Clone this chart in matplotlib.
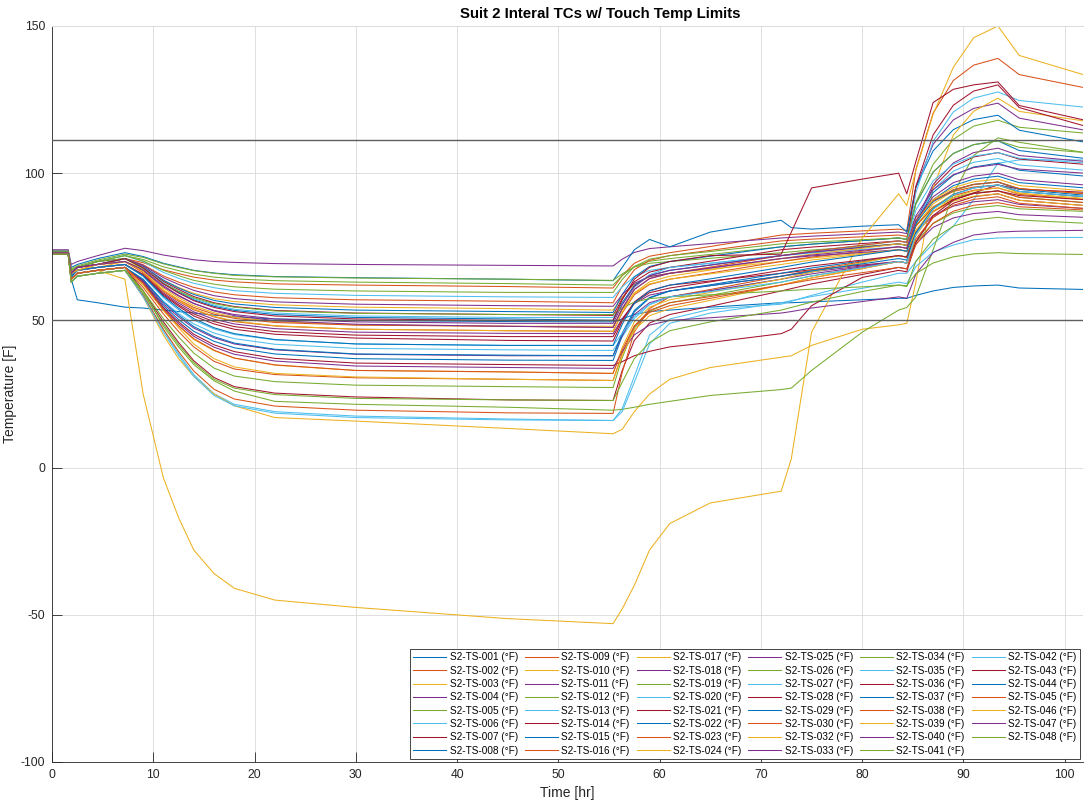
"""Suit 2 internal thermocouples plotted against the touch temperature limits."""

import matplotlib

matplotlib.use("Agg")
import matplotlib.pyplot as plt

# Sample times [hr], shared by every sensor trace.
hours = [0, 1.6, 1.9, 2.5, 4.5, 7.2, 9, 11, 12.5, 14, 16, 18, 22, 30, 45, 55.4, 56.3, 57.5, 59, 61,
         65, 72, 73, 75, 80, 83.6, 84.4, 85.3, 87, 89, 91, 93.4, 95.5, 102]

# Temperatures [F] per sensor, one value per entry of `hours`.
s2_ts_001 = [73.5, 73.5, 64, 57, 56, 54.5, 54.2, 53.5, 53, 52.5, 51.8, 51.2, 50.5, 50, 49.6, 49.5, 50.5, 52, 53, 53.5, 54.5, 56, 56, 56.3, 57, 57.5, 57.5, 58.5, 60, 61.2, 61.7, 62, 61, 60.5]
s2_ts_002 = [73.5, 73.5, 67, 68, 69, 71, 69.6, 67.2, 65.9, 64.7, 63.7, 63.1, 62.4, 62, 61.5, 61, 65.2, 69.4, 71.8, 73, 75.1, 79, 79.2, 79.6, 80.4, 81, 80.5, 101.3, 120.4, 131.5, 136.7, 139, 133.5, 129]
s2_ts_003 = [72.5, 72.5, 66, 67, 68, 70, 67.7, 63.5, 61.2, 59.2, 57.4, 56.4, 55.3, 54.5, 54, 53.5, 57.9, 62.3, 64.8, 66, 67.4, 70, 70.4, 71.2, 72.8, 74, 73.5, 82, 89.6, 94, 96.1, 97, 94.8, 93]
s2_ts_004 = [74, 74, 69, 70, 72, 74.5, 73.7, 72.2, 71.4, 70.6, 70, 69.7, 69.3, 69, 68.7, 68.5, 70.8, 73.1, 74.4, 75, 76.1, 78, 78.2, 78.6, 79.4, 80, 79.5, 95.3, 109.8, 118.1, 122, 123.8, 118.7, 114.6]
s2_ts_005 = [73, 73, 67, 68, 70, 72, 70.7, 68.2, 66.9, 65.7, 64.7, 64.1, 63.5, 63, 62.5, 62, 65.2, 68.3, 70.1, 71, 72.4, 75, 75.3, 75.9, 77.1, 78, 77.5, 90, 103, 111.5, 116, 118, 115.6, 113.6]
s2_ts_006 = [72.5, 72.5, 64, 66, 67, 68, 58.9, 46.8, 38.7, 31.6, 25.1, 21.5, 19, 17.5, 16.5, 16, 20, 31, 45, 50.5, 53.8, 55.5, 56.5, 58.5, 63, 66, 66, 70, 76, 82, 91, 103.4, 104.5, 104.5]
s2_ts_007 = [73, 73, 66, 67, 68, 69, 65.3, 58.5, 54.8, 51.5, 48.8, 47, 45.3, 44, 43.2, 43, 49.7, 56.3, 60.1, 62, 63.4, 66, 66.4, 67.2, 68.8, 70, 69.5, 83, 95.2, 102.2, 105.5, 107, 104.8, 103]
s2_ts_008 = [73.5, 73.5, 68, 69, 71, 73, 71.7, 69.4, 68.2, 67, 66.1, 65.5, 64.9, 64.5, 64, 63.5, 68, 74, 77.5, 75, 80, 84, 81.5, 81, 82, 82.5, 80, 95.2, 107.6, 114.8, 118.2, 119.7, 114.6, 110.5]
s2_ts_009 = [73, 73, 66, 68, 69, 71, 68.9, 65.1, 63, 61.2, 59.7, 58.7, 57.7, 57, 56.5, 56, 61.6, 67.2, 70.4, 72, 73.8, 77, 77.2, 77.6, 78.4, 79, 78.5, 85, 90.6, 93.8, 95.3, 96, 93.8, 92]
s2_ts_010 = [72.5, 72.5, 63, 65, 66, 67, 58, 45, 37, 31, 25, 21, 17, 15.8, 13.3, 11.5, 13, 19, 25, 30, 34, 37.5, 38, 41.5, 47, 48.5, 49, 63, 95, 113, 121, 125.5, 121, 117.7]
s2_ts_011 = [72.5, 72.5, 65, 67, 68, 69, 65.6, 59.3, 55.9, 52.9, 50.4, 48.8, 47.2, 46, 45.6, 45.5, 50.6, 55.7, 58.6, 60, 61.8, 65, 65.5, 66.5, 68.5, 70, 69.5, 83.5, 96.2, 103.5, 107, 108.5, 106, 104]
s2_ts_012 = [73.5, 73.5, 67.5, 68.5, 70.5, 72.5, 71.4, 69.2, 68, 66.9, 66, 65.3, 64.8, 64.4, 64, 63.6, 65.8, 68.1, 69.4, 70, 71.1, 73, 73.3, 73.9, 75.1, 76, 75.5, 82.3, 88.2, 91.7, 93.3, 94, 91.8, 90]
s2_ts_013 = [73, 73, 67, 68, 70, 72, 70, 66.3, 64.3, 62.6, 61.1, 60.1, 59.2, 58.5, 58, 57.8, 61.4, 64.9, 67, 68, 69.4, 72, 72.3, 72.9, 74.1, 75, 74.5, 93.4, 110.8, 120.8, 125.5, 127.6, 124.7, 122.4]
s2_ts_014 = [72.5, 72.5, 64, 66, 67, 68, 60.1, 49.5, 42.5, 36.3, 30.6, 27.5, 25.3, 24, 23, 22.8, 33, 43.2, 49.1, 52, 54.8, 60, 60.8, 62.4, 65.6, 68, 67.5, 76.8, 85, 89.8, 92, 93, 90.8, 89]
s2_ts_015 = [73, 73, 66, 68, 69, 71, 68.4, 63.7, 61, 58.8, 56.8, 55.6, 54.4, 53.5, 53, 52.7, 58.8, 64.8, 68.3, 70, 71.8, 75, 75.3, 75.9, 77.1, 78, 77.5, 89.6, 100.4, 106.7, 109.7, 111, 107.7, 105]
s2_ts_016 = [72.5, 72.5, 65, 67, 68, 69, 65.7, 59.8, 56.5, 53.6, 51.2, 49.6, 48.1, 47, 46.5, 46.3, 52.5, 58.7, 62.2, 64, 66.1, 70, 70.5, 71.5, 73.5, 75, 74.5, 82, 88.6, 92.4, 94.2, 95, 92.8, 91]
s2_ts_017 = [73, 73, 64, 66, 67, 64, 25, -3.5, -17, -28, -36, -41, -45, -47.5, -51.3, -53, -48, -40, -28, -19, -12, -8, 3, 46, 78, 93, 89, 101, 120, 136, 146, 150, 140, 133.3]
s2_ts_018 = [73, 73, 66, 68, 70, 71, 68.7, 64.5, 62.2, 60.2, 58.4, 57.4, 56.3, 55.5, 55, 54.8, 58.7, 62.6, 64.9, 66, 67.8, 71, 71.3, 71.9, 73.1, 74, 73.5, 80, 85.6, 88.8, 90.3, 91, 89.4, 88]
s2_ts_019 = [72.5, 72.5, 63, 65, 66, 67, 60, 50.6, 44.4, 38.9, 33.8, 31.1, 29.2, 28, 27.5, 27.2, 37.3, 47.4, 53.1, 56, 58.5, 63, 63.7, 65.1, 67.9, 70, 69.5, 76.7, 82.9, 86.5, 88.2, 89, 87.9, 87]
s2_ts_020 = [72.5, 72.5, 64, 66, 67, 68, 63.9, 56.5, 52.3, 48.8, 45.7, 43.8, 41.9, 40.5, 40, 39.8, 44.4, 50.7, 55.3, 58, 60.1, 64, 64.8, 66.4, 69.6, 72, 71.5, 83.6, 94.4, 100.7, 103.7, 105, 102.8, 101]
s2_ts_021 = [73, 73, 66, 68, 69, 71, 68.2, 63.2, 60.5, 58.1, 56, 54.7, 53.4, 52.5, 52, 51.7, 57.4, 63.1, 66.4, 68, 70.1, 74, 74.3, 74.9, 76.1, 77, 76.5, 95.6, 113, 123.1, 127.9, 130, 122.3, 116]
s2_ts_022 = [72.5, 72.5, 64, 66, 67, 68, 63.4, 55, 50.3, 46.3, 42.9, 40.7, 38.6, 37, 36.5, 36.4, 44.7, 52.9, 57.6, 60, 62.1, 66, 66.6, 67.8, 70.2, 72, 71.5, 83, 93.4, 99.3, 102.1, 103.4, 101, 99]
s2_ts_023 = [72.5, 72.5, 63, 65, 66, 67, 58.4, 47, 39.4, 32.8, 26.6, 23.3, 20.9, 19.5, 18.6, 18.4, 32.3, 46.1, 54, 58, 60.5, 65, 65.7, 67.1, 69.9, 72, 71.5, 79.7, 87, 91.1, 93.1, 94, 91.8, 90]
s2_ts_024 = [73, 73, 66, 67, 69, 70, 66.8, 61, 57.7, 55, 52.6, 51.1, 49.6, 48.5, 48, 48, 53.6, 59.2, 62.4, 64, 65.8, 69, 69.5, 70.5, 72.5, 74, 73.5, 80.7, 86.9, 90.5, 92.2, 93, 90.8, 89]
s2_ts_025 = [72.5, 72.5, 64, 66, 67, 68, 63.6, 55.6, 51.2, 47.4, 44.1, 42, 40, 38.5, 38, 38, 45, 52, 56, 58, 60.1, 64, 64.6, 65.8, 68.2, 70, 69.5, 76, 81.6, 84.8, 86.3, 87, 85.9, 85]
s2_ts_026 = [72.5, 72.5, 63, 65, 66, 67, 60, 48, 41, 35, 29.5, 26, 22.5, 21.5, 20.5, 19.5, 19.8, 20.5, 21.5, 22.5, 24.5, 26.5, 27, 33, 46, 53.5, 54.4, 58, 74, 93, 106, 112, 110.5, 107]
s2_ts_027 = [72.5, 72.5, 63, 65, 66, 67, 58, 46, 38, 31, 24.5, 21, 18.5, 17, 16.2, 16, 19, 29, 42, 49, 52.5, 56, 56.7, 58.1, 60.9, 63, 62.5, 68.3, 73.2, 75.6, 77.4, 78, 78.1, 78.2]
s2_ts_028 = [72.5, 72.5, 64, 66, 67, 68, 63.1, 54.4, 49.5, 45.3, 41.7, 39.4, 37.1, 35.5, 35, 34.7, 36, 38, 39.5, 41, 42.5, 45.5, 47, 55, 64.6, 67, 66.5, 76.6, 85.6, 90.8, 93.3, 96, 94.6, 93.5]
s2_ts_029 = [73, 73, 66, 68, 69, 71, 68, 62.6, 59.6, 57, 54.8, 53.4, 52, 51, 50.5, 50, 56, 61.9, 65.3, 67, 68.8, 72, 72.4, 73.2, 74.8, 76, 75.5, 83.4, 90.3, 94.3, 96.2, 97, 94.5, 92.5]
s2_ts_030 = [72.5, 72.5, 64, 66, 67, 68, 61.2, 52.2, 46.2, 41, 36.1, 33.5, 31.6, 30.5, 30, 29.6, 38.8, 48.1, 53.4, 56, 58.1, 62, 62.8, 64.4, 67.6, 70, 69.5, 77.7, 85, 89.1, 91.1, 92, 89.8, 88]
s2_ts_032 = [72.5, 72.5, 64, 66, 67, 68, 62.8, 53.3, 48.1, 43.5, 39.7, 37.2, 34.8, 33, 32.5, 32, 40.8, 49.5, 54.5, 57, 59.5, 64, 64.8, 66.4, 69.6, 72, 71.5, 80.4, 88.3, 92.9, 95, 96, 93.3, 91]
s2_ts_033 = [72.5, 72.5, 64, 66, 67, 68, 63, 53.9, 48.9, 44.6, 40.9, 38.5, 36.2, 34.5, 34, 33.7, 39.4, 45.1, 48.4, 50, 50.9, 52.5, 53, 54.2, 56.4, 58, 57.5, 65.7, 73, 76.5, 79, 80, 80.3, 80.6]
s2_ts_034 = [73, 73, 67, 68, 70, 72, 70.2, 67, 65.2, 63.6, 62.3, 61.4, 60.6, 60, 59.5, 59.5, 63.9, 68.3, 70.8, 72, 73.4, 76, 76.2, 76.6, 77.4, 78, 77.5, 89.6, 100.4, 106.7, 109.7, 111, 108.8, 107]
s2_ts_035 = [73, 73, 66, 68, 69, 71, 68.1, 62.8, 59.9, 57.4, 55.2, 53.8, 52.5, 51.5, 51, 51, 55.3, 61.2, 65.5, 68, 69.4, 72, 72.5, 73.5, 75.5, 77, 76.5, 87.5, 97.4, 103.1, 105.8, 107, 105.1, 103.5]
s2_ts_036 = [72.5, 72.5, 65, 67, 68, 69, 65.4, 58.9, 55.3, 52.2, 49.6, 47.9, 46.2, 45, 44.5, 44.5, 50.3, 56, 59.4, 61, 63.1, 67, 67.5, 68.5, 70.5, 72, 71.5, 79.7, 87, 91.1, 93.1, 94, 92.4, 91]
s2_ts_037 = [72.5, 72.5, 64.5, 66, 67, 68, 64, 56.2, 51.8, 47.9, 44.5, 42.3, 40.2, 38.6, 38.2, 38, 45.7, 53.4, 57.8, 60, 61.8, 65, 65.6, 66.8, 69.2, 71, 70.5, 79.8, 88, 92.8, 95, 96, 93.8, 92]
s2_ts_038 = [73, 73, 66, 67, 69, 70, 66.2, 60.2, 57, 54.4, 52.1, 50.7, 49.3, 48.4, 48, 47.6, 54, 60.5, 64.2, 66, 68.1, 72, 72.5, 73.5, 75.5, 77, 76.5, 84, 90.6, 94.4, 96.2, 97, 94.8, 93]
s2_ts_039 = [72.5, 72.5, 64, 66, 67, 68, 62, 53.5, 47.5, 42, 37, 34.2, 32, 30.8, 30, 29.6, 38.1, 46.7, 51.6, 54, 56.8, 62, 62.8, 64.4, 67.6, 70, 69.5, 78.8, 87, 91.8, 94, 95, 93.1, 91.5]
s2_ts_040 = [73, 73, 66, 68, 69, 70, 66.9, 61.4, 58.3, 55.7, 53.4, 52, 50.5, 49.5, 49, 49, 55.3, 61.6, 65.2, 67, 68.8, 72, 72.4, 73.2, 74.8, 76, 75.5, 85.5, 94.4, 99.5, 101.9, 103, 101.4, 100]
s2_ts_041 = [73, 73, 67, 68, 70, 71, 67.6, 62.5, 59.9, 57.7, 55.7, 54.5, 53.2, 52.4, 52, 52, 54.2, 56.2, 57.4, 58, 58.7, 60, 60.2, 60.6, 61.4, 62, 61.8, 65.9, 69.5, 71.6, 72.6, 73, 72.7, 72.4]
s2_ts_042 = [72.5, 72.5, 65, 67, 68, 69, 64.9, 57.7, 53.6, 50.1, 47.1, 45.2, 43.4, 42, 41.5, 41.5, 45.6, 51.4, 55.5, 58, 59.8, 63, 63.7, 65.1, 67.9, 70, 69.5, 79.1, 87.7, 92.6, 95, 96, 93.8, 92]
s2_ts_043 = [73, 73, 66, 68, 69, 71, 67.9, 62.4, 59.3, 56.7, 54.4, 53, 51.5, 50.5, 50, 50, 57, 64, 68, 70, 72, 72.5, 80, 95, 98, 100, 93, 104, 124, 128.5, 130, 131, 123, 118]
s2_ts_044 = [72.5, 72.5, 65, 67, 68, 69, 65.2, 58.2, 54.1, 50.6, 47.5, 45.5, 43.5, 42, 41.5, 41.5, 48.7, 55.9, 60, 62, 64.1, 68, 68.6, 69.8, 72.2, 74, 73.5, 82.8, 91, 95.8, 98, 99, 96.8, 95]
s2_ts_045 = [72.5, 72.5, 64, 66, 67, 68, 62.5, 53.7, 48.2, 43.8, 39.9, 37.2, 34.9, 33, 32.5, 32, 40, 48.1, 52.7, 55, 57.5, 62, 62.6, 63.8, 66.2, 68, 67.5, 75.7, 83, 87.1, 89.1, 90, 88.6, 87.5]
s2_ts_046 = [73, 73, 66, 67, 69, 70, 66.6, 60.3, 56.9, 53.9, 51.4, 49.8, 48.2, 47, 46.5, 46.3, 52.8, 59.4, 63.1, 65, 67.1, 71, 71.5, 72.5, 74.5, 76, 75.5, 83.7, 91, 95.1, 97.1, 98, 95.8, 94]
s2_ts_047 = [73, 73, 66, 68, 69, 70, 67.2, 61.8, 58.5, 55.8, 53.2, 51.6, 49.9, 48.7, 48, 47.6, 54, 60.5, 64.2, 66, 67.8, 71, 71.4, 72.2, 73.8, 75, 74.5, 83.8, 92, 96.8, 99, 100, 97.8, 96]
s2_ts_048 = [72.5, 72.5, 63, 65, 66, 67, 59.2, 48.7, 41.8, 35.7, 30, 27, 24.8, 23.5, 23, 22.8, 29, 37, 42.5, 46.5, 49.5, 53.5, 54.4, 56.2, 59.8, 62, 61.5, 70.1, 77.6, 82, 84.1, 85, 84.1, 83]

# S2-TS-031 has no data in this run.
sensor_ids = ["001", "002", "003", "004", "005", "006", "007", "008", "009", "010",
              "011", "012", "013", "014", "015", "016", "017", "018", "019", "020",
              "021", "022", "023", "024", "025", "026", "027", "028", "029", "030",
              "032", "033", "034", "035", "036", "037", "038", "039", "040", "041",
              "042", "043", "044", "045", "046", "047", "048"]

# Touch temperature limits [F]: 44 C upper, 10 C lower.
touch_limits = [111.2, 50.0]

series = [s2_ts_001, s2_ts_002, s2_ts_003, s2_ts_004, s2_ts_005, s2_ts_006, s2_ts_007, s2_ts_008,
          s2_ts_009, s2_ts_010, s2_ts_011, s2_ts_012, s2_ts_013, s2_ts_014, s2_ts_015, s2_ts_016,
          s2_ts_017, s2_ts_018, s2_ts_019, s2_ts_020, s2_ts_021, s2_ts_022, s2_ts_023, s2_ts_024,
          s2_ts_025, s2_ts_026, s2_ts_027, s2_ts_028, s2_ts_029, s2_ts_030, s2_ts_032, s2_ts_033,
          s2_ts_034, s2_ts_035, s2_ts_036, s2_ts_037, s2_ts_038, s2_ts_039, s2_ts_040, s2_ts_041,
          s2_ts_042, s2_ts_043, s2_ts_044, s2_ts_045, s2_ts_046, s2_ts_047, s2_ts_048]

# MATLAB default colour order
line_colors = ["#0072BD", "#D95319", "#EDB120", "#7E2F8E", "#77AC30", "#4DBEEE", "#A2142F"]

plt.rcParams["font.family"] = ["Liberation Sans", "DejaVu Sans"]
plt.rcParams["axes.unicode_minus"] = False
axis_color = "#262626"

fig = plt.figure(figsize=(10.84, 8.0), dpi=100)
ax = fig.add_axes([52 / 1084, 38 / 800, 1031 / 1084, 736 / 800])

for i, (sid, temps) in enumerate(zip(sensor_ids, series)):
    ax.plot(hours, temps, color=line_colors[i % len(line_colors)], linewidth=0.75,
            label=f"S2-TS-{sid} (°F)")

for limit in touch_limits:
    ax.axhline(limit, color="#5e5e5e", linewidth=1.0, zorder=3)

ax.set_xlim(0, 101.8)
ax.set_ylim(-100, 150)
ax.set_xticks(range(0, 101, 10))
ax.set_yticks(range(-100, 151, 50))
ax.grid(True, color="#dedede", linewidth=0.7)
ax.set_axisbelow(True)
ax.tick_params(direction="in", length=7, width=0.6, colors=axis_color, labelsize=8.7, pad=5)
for side in ("left", "bottom"):
    ax.spines[side].set_color(axis_color)
    ax.spines[side].set_linewidth(0.6)
ax.spines["top"].set_color("#dedede")
ax.spines["right"].set_visible(False)

ax.set_xlabel("Time [hr]", fontsize=10, color=axis_color, labelpad=4)
ax.set_ylabel("Temperature [F]", fontsize=10, color=axis_color)
ax.yaxis.set_label_coords(-0.034, 0.5)
title = ax.set_title("Suit 2 Interal TCs w/ Touch Temp Limits", fontsize=10.8,
                     fontweight="bold", color="black", pad=6)
title.set_x(0.5315)

leg = ax.legend(ncol=6, loc="lower right", fontsize=7.2, frameon=True, fancybox=False,
                edgecolor=axis_color, framealpha=1, handlelength=3.3, handletextpad=0.35,
                columnspacing=0.7, labelspacing=0.33, borderpad=0.35, borderaxespad=0.3)
leg.get_frame().set_linewidth(0.6)

fig.savefig("out.png", dpi=100)
plt.close(fig)
